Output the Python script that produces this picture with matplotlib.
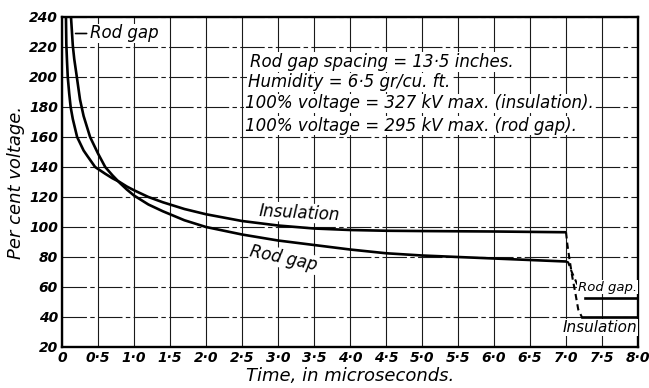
import matplotlib
matplotlib.use("Agg")
import matplotlib.pyplot as plt
from matplotlib.ticker import FixedLocator

# impulse breakdown curves, percent of 100% voltage vs time to flashover
rod_t = [0.125, 0.15, 0.17, 0.2, 0.25, 0.3, 0.39, 0.5, 0.6, 0.7, 0.8, 0.9, 1.0,
         1.2, 1.4, 1.7, 2.0, 2.5, 3.0, 3.5, 4.0, 4.5, 5.0, 5.5, 6.0, 6.5, 7.0]
rod_v = [240, 221, 212, 202, 185, 174, 160, 149, 140, 134.5, 129.5, 125, 121,
         115, 110.5, 104.5, 100, 95, 91, 88, 85, 82.5, 81, 80, 79, 78, 77]

ins_t = [0.055, 0.06, 0.07, 0.08, 0.1, 0.12, 0.15, 0.21, 0.3, 0.35, 0.46, 0.6, 0.7,
         0.8, 0.9, 1.0, 1.2, 1.4, 1.7, 2.0, 2.5, 3.0, 3.5, 4.0, 4.5, 5.0, 6.0, 7.0]
ins_v = [240, 222, 210, 200, 189, 180, 172, 160, 151, 147.5, 140, 135.5, 132.5,
         130, 127, 124.5, 120, 116.5, 112, 108.5, 104, 101, 99, 98, 97.5, 97.3, 97, 96.5]

# collapse after 7 microseconds (dashed) and the level reached
rod_drop_t = [7.0, 7.03, 7.08, 7.15, 7.24, 7.26]
rod_drop_v = [77, 76.5, 70, 62.5, 56, 53]
ins_drop_t = [7.0, 7.02, 7.05, 7.09, 7.13, 7.17, 7.22]
ins_drop_v = [96.5, 88, 78, 66, 56, 45, 40]
rod_tail_t = [7.26, 8.0]
rod_tail_v = [53, 53]
ins_tail_t = [7.22, 8.0]
ins_tail_v = [40, 40]

x_ticks = [0, 0.5, 1.0, 1.5, 2.0, 2.5, 3.0, 3.5, 4.0, 4.5, 5.0, 5.5, 6.0, 6.5, 7.0, 7.5, 8.0]
x_labels = ["0", "0·5", "1·0", "1·5", "2·0", "2·5", "3·0", "3·5", "4·0", "4·5",
            "5·0", "5·5", "6·0", "6·5", "7·0", "7·5", "8·0"]
y_ticks = list(range(20, 241, 20))

notes = ["Rod gap spacing = 13·5 inches.",
         "Humidity = 6·5 gr/cu. ft.",
         "100% voltage = 327 kV max. (insulation).",
         "100% voltage = 295 kV max. (rod gap)."]

plt.rcParams["font.family"] = ["DejaVu Sans"]

fig = plt.figure(figsize=(6.49, 3.88), dpi=100)
ax = fig.add_axes([62 / 649, 41 / 388, 576 / 649, 330 / 388])

ax.set_xlim(0, 8)
ax.set_ylim(20, 240)
ax.xaxis.set_major_locator(FixedLocator(x_ticks))
ax.set_xticklabels(x_labels)
ax.yaxis.set_major_locator(FixedLocator(y_ticks))
ax.grid(True, axis="x", color="#1a1a1a", linewidth=0.8)
ax.grid(True, axis="y", color="#1a1a1a", linewidth=0.8, linestyle=(0, (22, 3, 4, 3)))
ax.tick_params(length=0, pad=3)
for lab in ax.get_xticklabels() + ax.get_yticklabels():
    lab.set_fontstyle("italic")
    lab.set_fontweight("bold")
    lab.set_fontsize(10)
for sp in ax.spines.values():
    sp.set_linewidth(1.7)

lw = 1.9
ax.plot(rod_t, rod_v, color="black", lw=lw, solid_capstyle="butt")
ax.plot(ins_t, ins_v, color="black", lw=lw, solid_capstyle="butt")
ax.plot(rod_drop_t, rod_drop_v, color="black", lw=1.5, linestyle=(0, (3, 2)))
ax.plot(ins_drop_t, ins_drop_v, color="black", lw=1.5, linestyle=(0, (3, 2)))
ax.plot(rod_tail_t, rod_tail_v, color="black", lw=lw)
ax.plot(ins_tail_t, ins_tail_v, color="black", lw=lw)

white = dict(facecolor="white", edgecolor="none", pad=0.5)
txt = dict(fontstyle="italic", fontsize=12, color="black")

# curve labels
ax.annotate("Rod gap", xy=(0.15, 229), xytext=(0.39, 229), va="center", ha="left",
            arrowprops=dict(arrowstyle="-", lw=1.2, color="black"),
            bbox=white, **txt)
ax.text(3.3, 109.5, "Insulation", ha="center", va="center", rotation=-3, bbox=white, **txt)
ax.text(3.08, 79, "Rod gap", ha="center", va="center", rotation=-12, bbox=white, **txt)
ax.text(7.99, 60, "Rod gap.", ha="right", va="center", fontstyle="italic",
        fontsize=9.5, bbox=white)
ax.text(7.99, 33, "Insulation", ha="right", va="center", fontstyle="italic",
        fontsize=11, bbox=white)

# test conditions
note_y = [210, 196.5, 182.5, 167.5]
note_x = [2.61, 2.58, 2.54, 2.54]
for xx, yy, s in zip(note_x, note_y, notes):
    ax.text(xx, yy, s, ha="left", va="center", bbox=white, **txt)

ax.set_xlabel("Time, in microseconds.", fontstyle="italic", fontsize=13, labelpad=1)
ax.set_ylabel("Per cent voltage.", fontstyle="italic", fontsize=13, labelpad=3)

fig.savefig("out.png", dpi=100)
